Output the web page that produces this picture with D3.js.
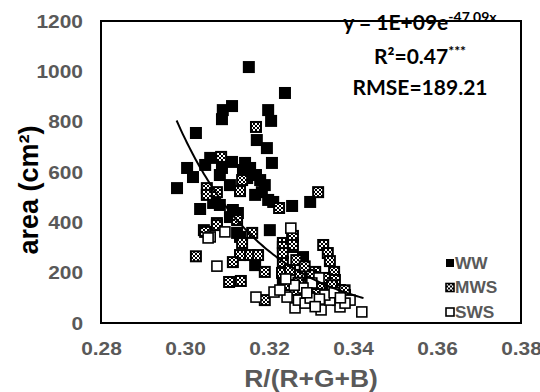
<!DOCTYPE html>
<html>
<head>
<meta charset="utf-8">
<script src="https://cdn.jsdelivr.net/npm/d3@7"></script>
<style>
body { margin: 0; background: #fff; }
</style>
</head>
<body>
<div id="chart-area"></div>
<script>
// tick values
var xTicks = [0.28, 0.30, 0.32, 0.34, 0.36, 0.38];
var yTicks = [0, 200, 400, 600, 800, 1000, 1200];

var seriesNames = ["WW", "MWS", "SWS"];

// [R/(R+G+B), area]
var wwPoints = [
    [0.3152, 1017], [0.3238, 914], [0.3112, 862], [0.3090, 846], [0.3088, 810],
    [0.3198, 846], [0.3205, 803], [0.3026, 755], [0.3171, 727], [0.3195, 695],
    [0.3207, 636], [0.3060, 656], [0.3112, 640], [0.3143, 636], [0.3155, 616],
    [0.3005, 616], [0.3019, 580], [0.2981, 536], [0.3088, 616], [0.3083, 588],
    [0.3107, 548], [0.3148, 576], [0.3183, 520], [0.3167, 509], [0.3198, 489],
    [0.3210, 481], [0.3255, 465], [0.3298, 481], [0.3036, 453], [0.3067, 477],
    [0.3083, 469], [0.3114, 449], [0.3126, 437], [0.3107, 421], [0.3202, 369],
    [0.3131, 342], [0.3124, 358], [0.3167, 230], [0.3281, 262], [0.3233, 159],
    [0.3048, 628], [0.3138, 608], [0.3179, 568], [0.3190, 548], [0.3169, 588]
];

var mwsPoints = [
    [0.3169, 779], [0.3086, 660], [0.3136, 568], [0.3131, 524], [0.3052, 536],
    [0.3052, 509], [0.3076, 520], [0.3224, 457], [0.3317, 520], [0.3124, 409],
    [0.3076, 397], [0.3045, 369], [0.3160, 358], [0.3136, 318], [0.3026, 265],
    [0.3233, 318], [0.3255, 342], [0.3255, 302], [0.3329, 310], [0.3131, 270],
    [0.3155, 270], [0.3174, 270], [0.3048, 362], [0.3076, 389], [0.3114, 242],
    [0.3190, 203], [0.3105, 163], [0.3133, 167], [0.3190, 91], [0.3233, 302],
    [0.3233, 242], [0.3231, 199], [0.3257, 346], [0.3257, 310], [0.3233, 278],
    [0.3340, 278], [0.3345, 246], [0.3355, 203], [0.3357, 171], [0.3369, 131],
    [0.3250, 211], [0.3274, 191], [0.3298, 171], [0.3321, 151], [0.3345, 131],
    [0.3262, 131], [0.3286, 111], [0.3310, 203], [0.3333, 179], [0.3364, 91],
    [0.3381, 111], [0.3245, 151], [0.3302, 131], [0.3270, 160], [0.3315, 115],
    [0.3350, 150], [0.3300, 190], [0.3380, 130], [0.3265, 250], [0.3285, 225]
];

var swsPoints = [
    [0.3060, 342], [0.3095, 362], [0.3252, 377], [0.3055, 338], [0.3076, 226],
    [0.3169, 103], [0.3212, 123], [0.3319, 179], [0.3302, 159], [0.3262, 60],
    [0.3324, 52], [0.3369, 64], [0.3421, 44], [0.3393, 91], [0.3243, 103],
    [0.3381, 79], [0.3270, 91], [0.3286, 79], [0.3345, 91], [0.3298, 99],
    [0.3226, 131], [0.3281, 139], [0.3333, 111], [0.3260, 150], [0.3290, 120],
    [0.3320, 95], [0.3355, 120], [0.3370, 100], [0.3310, 65], [0.3240, 175]
];

// exponential trendline y = a * e^(b x)
var trendA = 1e9;
var trendB = -47.09;
var trendRange = [0.298, 0.3425];

var margin = { top: 21, right: 19, bottom: 69, left: 101 };
var width = 540 - margin.left - margin.right;
var height = 392 - margin.top - margin.bottom;

var svg = d3.select("#chart-area").append("svg")
    .attr("width", width + margin.left + margin.right)
    .attr("height", height + margin.top + margin.bottom);

var defs = svg.append("defs");
var pat = defs.append("pattern")
    .attr("id", "check")
    .attr("width", 4)
    .attr("height", 4)
    .attr("patternUnits", "userSpaceOnUse");
pat.append("rect").attr("width", 4).attr("height", 4).attr("fill", "#000");
pat.append("rect").attr("width", 2).attr("height", 2).attr("fill", "#fff");
pat.append("rect").attr("x", 2).attr("y", 2).attr("width", 2).attr("height", 2).attr("fill", "#fff");

var g = svg.append("g")
    .attr("transform", "translate(" + margin.left + ", " + margin.top + ")");

var x = d3.scaleLinear()
    .domain([0.28, 0.38])
    .range([0, width]);

var y = d3.scaleLinear()
    .domain([0, 1200])
    .range([height, 0]);

// stretch text a bit wider, the picture is slightly wide
function stretch(sel, k) {
    sel.each(function() {
        var w = this.getComputedTextLength();
        d3.select(this)
            .attr("textLength", w * k)
            .attr("lengthAdjust", "spacingAndGlyphs");
    });
}

var xAxisGroup = g.append("g")
    .attr("transform", "translate(0," + height + ")")
    .call(d3.axisBottom(x).tickValues(xTicks).tickSize(0).tickPadding(18.5)
        .tickFormat(d3.format(".2f")));

var yAxisGroup = g.append("g")
    .call(d3.axisLeft(y).tickValues(yTicks).tickSize(0).tickPadding(18)
        .tickFormat(d3.format("d")));

g.selectAll(".domain").remove();
g.selectAll(".tick text")
    .attr("font-family", "'Liberation Sans', Arial, sans-serif")
    .attr("font-weight", "bold")
    .attr("font-size", "19px")
    .attr("fill", "#595959");
stretch(g.selectAll(".tick text"), 1.1);

// plot border
g.append("rect")
    .attr("width", width)
    .attr("height", height)
    .attr("fill", "none")
    .attr("stroke", "#000")
    .attr("stroke-width", 2);

var size = 12;

g.append("g").selectAll("rect")
    .data(wwPoints)
    .enter().append("rect")
    .attr("x", (d) => x(d[0]) - size / 2)
    .attr("y", (d) => y(d[1]) - size / 2)
    .attr("width", size)
    .attr("height", size)
    .attr("fill", "#000");

g.append("g").selectAll("rect")
    .data(mwsPoints)
    .enter().append("rect")
    .attr("x", (d) => x(d[0]) - size / 2 + 1)
    .attr("y", (d) => y(d[1]) - size / 2 + 1)
    .attr("width", size - 2)
    .attr("height", size - 2)
    .attr("fill", "url(#check)")
    .attr("stroke", "#000")
    .attr("stroke-width", 2);

g.append("g").selectAll("rect")
    .data(swsPoints)
    .enter().append("rect")
    .attr("x", (d) => x(d[0]) - size / 2 + 1)
    .attr("y", (d) => y(d[1]) - size / 2 + 1)
    .attr("width", size - 2)
    .attr("height", size - 2)
    .attr("fill", "#fff")
    .attr("stroke", "#000")
    .attr("stroke-width", 1.6);

// trendline
var trendXs = d3.range(trendRange[0], trendRange[1], 0.0005).concat([trendRange[1]]);
var line = d3.line()
    .x((d) => x(d))
    .y((d) => y(trendA * Math.exp(trendB * d)));
g.append("path")
    .datum(trendXs)
    .attr("d", line)
    .attr("fill", "none")
    .attr("stroke", "#000")
    .attr("stroke-width", 2);

// equation text
var annFont = "Lato, 'Open Sans', sans-serif";
var eq = g.append("text")
    .attr("x", 319)
    .attr("y", 9)
    .attr("text-anchor", "middle")
    .attr("font-family", annFont)
    .attr("font-weight", "bold")
    .attr("font-size", "21px")
    .attr("fill", "#000");
eq.append("tspan").text("y = 1E+09e");
eq.append("tspan").attr("font-size", "14px").attr("dy", -8).text("-47.09x");

var r2 = g.append("text")
    .attr("x", 319)
    .attr("y", 43)
    .attr("text-anchor", "middle")
    .attr("font-family", annFont)
    .attr("font-weight", "bold")
    .attr("font-size", "21px")
    .attr("fill", "#000");
r2.append("tspan").text("R²=0.47");
r2.append("tspan").attr("font-size", "14px").attr("dy", -8).text("***");

g.append("text")
    .attr("x", 319)
    .attr("y", 74)
    .attr("text-anchor", "middle")
    .attr("font-family", annFont)
    .attr("font-weight", "bold")
    .attr("font-size", "21px")
    .attr("fill", "#000")
    .text("RMSE=189.21");

// legend
var legend = g.append("g")
    .attr("transform", "translate(349, 242)");
var legendRows = legend.selectAll("g")
    .data(seriesNames)
    .enter().append("g")
    .attr("transform", (d, i) => "translate(0," + (i * 24.5) + ")");
legendRows.append("rect")
    .attr("x", -4)
    .attr("y", -4)
    .attr("width", 8)
    .attr("height", 8)
    .attr("fill", (d, i) => ["#000", "url(#check)", "#fff"][i])
    .attr("stroke", "#000")
    .attr("stroke-width", (d, i) => i == 0 ? 0 : 1.6);
legendRows.append("text")
    .attr("x", 5)
    .attr("y", 0)
    .attr("dy", "0.36em")
    .attr("font-family", "'Liberation Sans', Arial, sans-serif")
    .attr("font-weight", "bold")
    .attr("font-size", "16px")
    .attr("fill", "#595959")
    .text((d) => d);
stretch(legendRows.selectAll("text"), 1.08);

// axis titles
var xTitle = g.append("text")
    .attr("x", width / 2)
    .attr("y", height + 64)
    .attr("text-anchor", "middle")
    .attr("font-family", "'Liberation Sans', Arial, sans-serif")
    .attr("font-weight", "bold")
    .attr("font-size", "24px")
    .attr("fill", "#595959")
    .text("R/(R+G+B)");
stretch(xTitle, 1.1);

g.append("text")
    .attr("x", -(190 - margin.top))
    .attr("y", -63)
    .attr("text-anchor", "middle")
    .attr("transform", "rotate(-90)")
    .attr("font-family", "'Liberation Sans', Arial, sans-serif")
    .attr("font-weight", "bold")
    .attr("font-size", "27px")
    .attr("fill", "#000")
    .text("area (cm²)");
</script>
</body>
</html>
